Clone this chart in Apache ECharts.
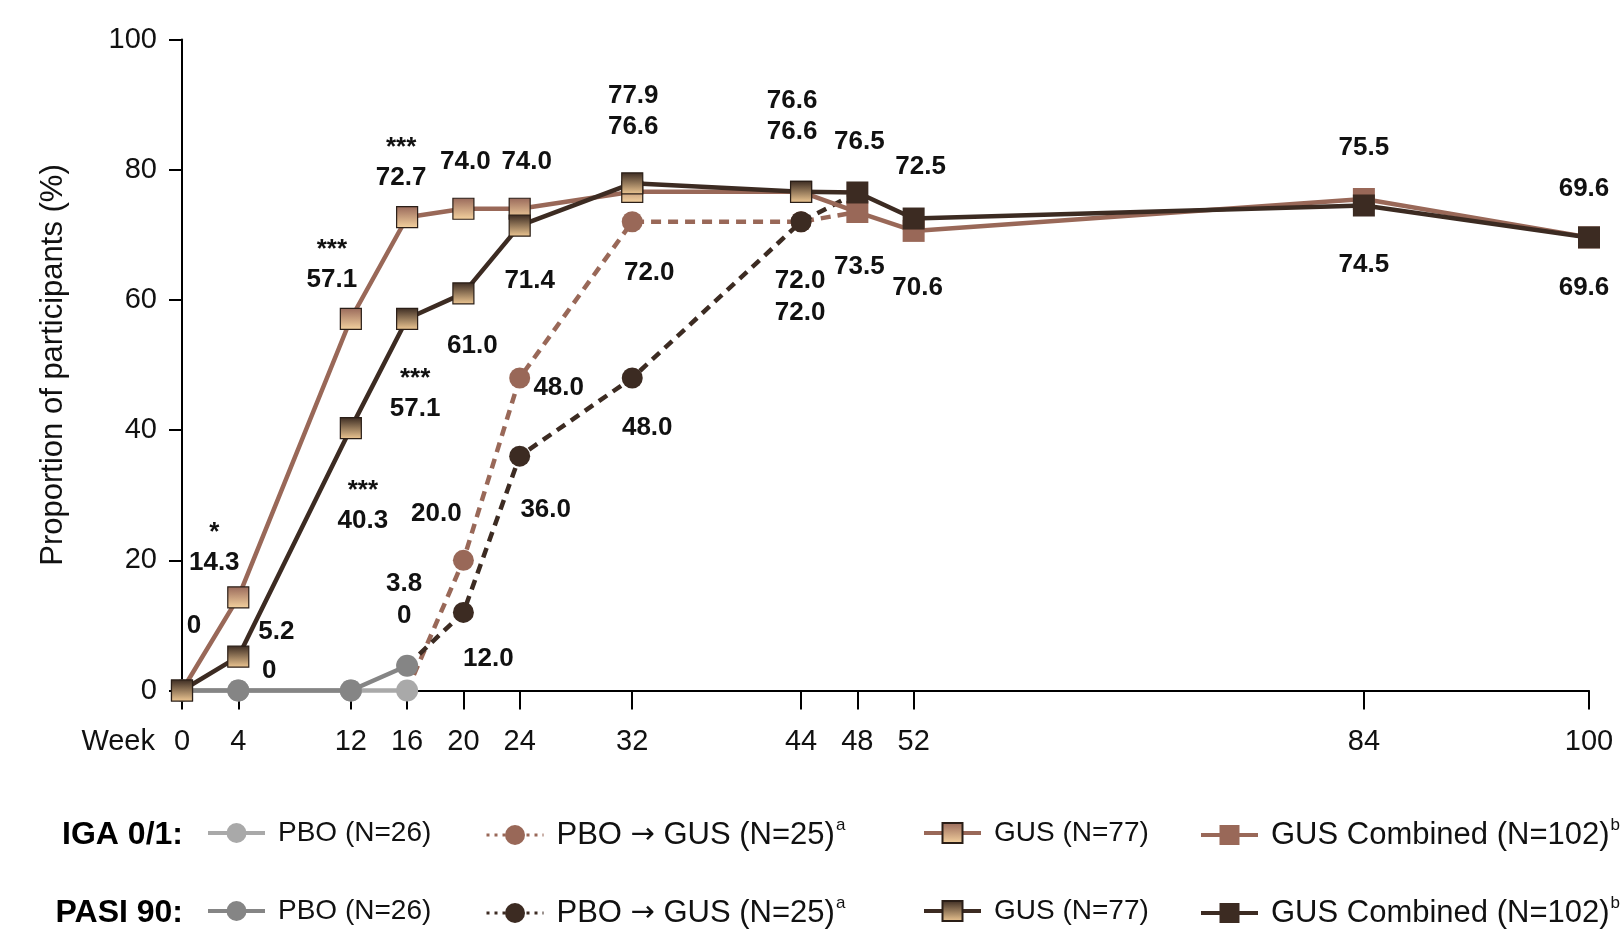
<!DOCTYPE html>
<html>
<head>
<meta charset="utf-8">
<script src="https://cdn.jsdelivr.net/npm/echarts@6/dist/echarts.min.js"></script>
<style>
  html, body { margin: 0; padding: 0; background: #fff; }
  #chart { width: 1624px; height: 941px; }
</style>
</head>
<body>
<div id="chart"></div>
<script>
// ---------------- DATA ----------------
const weekTicks = [0, 4, 12, 16, 20, 24, 32, 44, 48, 52, 84, 100];
const yTicks = [0, 20, 40, 60, 80, 100];

const pboWeeks = [0, 4, 12, 16];
const igaPbo = [0, 0, 0, 0];
const pasiPbo = [0, 0, 0, 3.8];

const pboGusWeeks = [16, 20, 24, 32, 44, 48];
const igaPboGus = [0, 20.0, 48.0, 72.0, 72.0, 73.5];
const pasiPboGus = [3.8, 12.0, 36.0, 48.0, 72.0, 76.5];

const gusWeeks = [0, 4, 12, 16, 20, 24, 32, 44];
const igaGus = [0, 14.3, 57.1, 72.7, 74.0, 74.0, 76.6, 76.6];
const pasiGus = [0, 5.2, 40.3, 57.1, 61.0, 71.4, 77.9, 76.6];

const combinedWeeks = [44, 48, 52, 84, 100];
const igaCombined = [76.6, 73.5, 70.6, 75.5, 69.6];
const pasiCombined = [76.6, 76.5, 72.5, 74.5, 69.6];

// significance markers (week -> text)
const igaGusSig = { 4: '*', 12: '***', 16: '***' };
const pasiGusSig = { 12: '***', 16: '***' };

const legendNames = {
  igaPbo: ['PBO (N=26)'], igaPboGus: ['PBO ', '→', ' GUS (N=25)'], igaGus: ['GUS (N=77)'], igaCombined: ['GUS Combined (N=102)'],
  pasiPbo: ['PBO (N=26)'], pasiPboGus: ['PBO ', '→', ' GUS (N=25)'], pasiGus: ['GUS (N=77)'], pasiCombined: ['GUS Combined (N=102)']
};
const legendSup = { igaPboGus: 'a', igaCombined: 'b', pasiPboGus: 'a', pasiCombined: 'b' };
const rowTitles = ['IGA 0/1:', 'PASI 90:'];

// ---------------- LAYOUT / STYLE (label offsets in px, keyed by week) ----------------
const labelOffsets = {
  igaGus: { 0: [12, -65], 4: [-24, -35], 12: [-19, -39], 16: [-6, -39], 20: [2, -47], 24: [7, -47], 32: [1, -65], 44: [-9, -60] },
  pasiGus: { 4: [38, -25], 12: [12, 93], 16: [8, 90], 20: [9, 52], 24: [10, 55], 32: [1, -88], 44: [-9, -91] },
  pasiPbo: { 4: [31, -20], 16: [-3, -82] },
  igaPbo: { 16: [-3, -75] },
  igaPboGus: { 20: [-27, -46], 24: [39, 10], 32: [17, 51], 44: [-1, 59] },
  pasiPboGus: { 20: [25, 46], 24: [26, 54], 32: [15, 50], 44: [-1, 91] },
  igaCombined: { 48: [2, 55], 52: [4, 57], 84: [0, -51], 100: [-5, -49] },
  pasiCombined: { 48: [2, -51], 52: [7, -52], 84: [0, 59], 100: [-5, 50] }
};
const hiddenSymbolWeeks = { igaPboGus: [16, 48], pasiPboGus: [16, 48], igaCombined: [44], pasiCombined: [44] };

const FONT = "'Liberation Sans', Arial, Helvetica, sans-serif";
const BROWN = '#996858';
const DARK = '#3c2b22';
const LGRAY = '#a9a9a9';
const MGRAY = '#858585';

function fmt(v) { return v === 0 ? '0' : v.toFixed(1); }

function buildData(key, xs, ys, sig) {
  const offs = labelOffsets[key] || {};
  const hidden = hiddenSymbolWeeks[key] || [];
  return xs.map((w, i) => {
    const item = { value: [w, ys[i]] };
    if (hidden.indexOf(w) >= 0) item.symbol = 'none';
    const off = offs[w];
    if (off) {
      const s = sig && sig[w];
      item.label = {
        show: true,
        offset: s ? [off[0], off[1] - 15] : off,
        formatter: s ? '{s|' + s + '}\n{v|' + fmt(ys[i]) + '}' : '{v|' + fmt(ys[i]) + '}'
      };
    }
    return item;
  });
}

const labelBase = {
  show: false, position: 'inside', align: 'center', verticalAlign: 'middle',
  rich: {
    v: { fontFamily: FONT, fontWeight: 'bold', fontSize: 26, lineHeight: 30, color: '#111' },
    s: { fontFamily: FONT, fontWeight: 'bold', fontSize: 26, lineHeight: 30, color: '#111' }
  }
};

function grad(top, bottom) {
  return new echarts.graphic.LinearGradient(0, 0, 0, 1, [
    { offset: 0, color: top }, { offset: 1, color: bottom }
  ]);
}

const series = [
  { id: 'igaPboGus', xs: pboGusWeeks, ys: igaPboGus, color: BROWN, dash: [10, 7], symbol: 'circle', size: 21, z: 1 },
  { id: 'pasiPboGus', xs: pboGusWeeks, ys: pasiPboGus, color: DARK, dash: [10, 7], symbol: 'circle', size: 21, z: 2 },
  { id: 'igaPbo', xs: pboWeeks, ys: igaPbo, color: LGRAY, symbol: 'circle', size: 22, z: 3 },
  { id: 'pasiPbo', xs: pboWeeks, ys: pasiPbo, color: MGRAY, symbol: 'circle', size: 22, z: 4 },
  { id: 'igaCombined', xs: combinedWeeks, ys: igaCombined, color: BROWN, symbol: 'rect', size: 22, z: 5 },
  { id: 'pasiCombined', xs: combinedWeeks, ys: pasiCombined, color: DARK, symbol: 'rect', size: 22, z: 6 },
  { id: 'igaGus', xs: gusWeeks, ys: igaGus, color: BROWN, symbol: 'rect', size: 21, z: 7, fill: grad('#98685a', '#f6d4a0'), sig: igaGusSig },
  { id: 'pasiGus', xs: gusWeeks, ys: pasiGus, color: DARK, symbol: 'rect', size: 21, z: 8, fill: grad('#3a2a21', '#f0c994'), sig: pasiGusSig }
].map(s => ({
  type: 'line',
  id: s.id,
  name: s.id,
  z: s.z,
  data: buildData(s.id, s.xs, s.ys, s.sig),
  symbol: s.symbol,
  symbolSize: s.size,
  showSymbol: true,
  clip: false,
  lineStyle: { color: s.color, width: 4.5, type: s.dash || 'solid' },
  itemStyle: s.fill ? { color: s.fill, borderColor: '#2a1e17', borderWidth: 1.2 } : { color: s.color, borderWidth: 0 },
  label: labelBase,
  emphasis: { disabled: true },
  animation: false
}));

// Legends: one component per item for exact placement
const legendRowsKeys = [
  ['igaPbo', 'igaPboGus', 'igaGus', 'igaCombined'],
  ['pasiPbo', 'pasiPboGus', 'pasiGus', 'pasiCombined']
];
const legendLeft = [206, 485, 922, 1199];
const legendFont = [28, 31, 28, 31];
const rowCenters = [835, 913];
const legends = [];
legendRowsKeys.forEach((row, r) => {
  row.forEach((key, c) => {
    const fs = legendFont[c];
    const dashed = c === 1;
    legends.push({
      data: [key],
      left: legendLeft[c],
      top: rowCenters[r] - Math.round(fs * 1.15 / 2),
      padding: 0,
      itemWidth: 57,
      itemHeight: 25,
      selectedMode: false,
      lineStyle: dashed ? { width: 3, type: [3, 5] } : { width: 4 },
      formatter: function (name) {
        const parts = legendNames[name];
        let txt = '{t|' + parts[0] + '}';
        if (parts.length > 1) txt += '{arr|' + parts[1] + '}{t|' + parts[2] + '}';
        if (legendSup[name]) txt += '{sup|' + legendSup[name] + '}';
        return txt;
      },
      textStyle: {
        fontFamily: FONT, fontSize: fs, color: '#111', padding: [0, 0, 0, 8],
        rich: {
          t: { fontFamily: FONT, fontSize: fs, color: '#111', lineHeight: Math.round(fs * 1.15) },
          arr: { fontFamily: "'DejaVu Sans', sans-serif", fontSize: fs - 2, color: '#111', lineHeight: Math.round(fs * 1.15) },
          sup: { fontFamily: FONT, fontSize: 17, color: '#111', verticalAlign: 'top', lineHeight: 20, padding: [0, 0, 12, 1] }
        }
      }
    });
  });
});

const option = {
  backgroundColor: '#fff',
  animation: false,
  grid: { left: 182, right: 35, top: 39.5, bottom: 250.5, containLabel: false },
  xAxis: {
    type: 'value', min: 0, max: 100,
    name: 'Week', nameLocation: 'start', nameGap: 27,
    nameTextStyle: { fontFamily: FONT, fontSize: 29, color: '#111', align: 'right', verticalAlign: 'top', padding: [37, 0, 0, 0] },
    axisLine: { show: true, onZero: false, lineStyle: { color: '#000', width: 2 } },
    axisTick: { show: true, customValues: weekTicks, length: 19, lineStyle: { color: '#000', width: 2 } },
    axisLabel: { customValues: weekTicks, fontFamily: FONT, fontSize: 29, color: '#111', margin: 37 },
    splitLine: { show: false }
  },
  yAxis: {
    type: 'value', min: 0, max: 100, interval: 20,
    name: 'Proportion of participants (%)', nameLocation: 'middle', nameGap: 113,
    nameTextStyle: { fontFamily: FONT, fontSize: 31, color: '#111' },
    axisLine: { show: true, lineStyle: { color: '#000', width: 2 } },
    axisTick: { show: true, length: 13, lineStyle: { color: '#000', width: 2 } },
    axisLabel: { fontFamily: FONT, fontSize: 29, color: '#111', margin: 25,
      formatter: v => (yTicks.indexOf(v) >= 0 ? String(v) : '') },
    splitLine: { show: false }
  },
  legend: legends,
  graphic: rowTitles.map((t, r) => ({
    type: 'text', x: 183, y: rowCenters[r],
    style: { text: t, fill: '#000', font: 'bold 32px ' + FONT, align: 'right', verticalAlign: 'middle' }
  })),
  series: series
};

const chart = echarts.init(document.getElementById('chart'), null, { renderer: 'canvas' });
chart.setOption(option);
</script>
</body>
</html>
